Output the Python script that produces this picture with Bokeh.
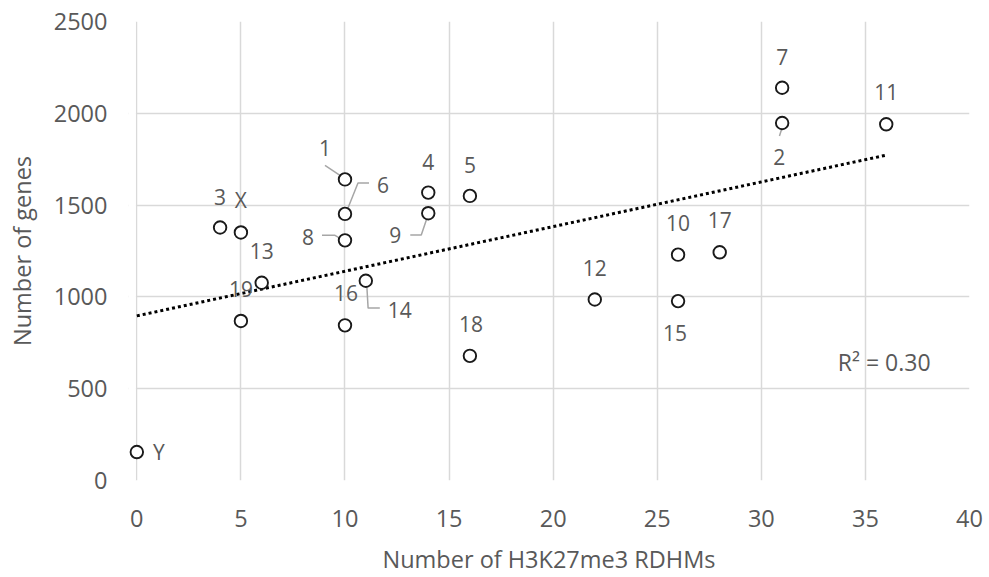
import numpy as np
from bokeh.plotting import figure
from bokeh.models import Range1d, FixedTicker, ColumnDataSource
from bokeh.core.properties import value
from bokeh.embed import file_html
from bokeh.resources import INLINE

# ---- data ----
labels = ["1", "2", "3", "4", "5", "6", "7", "8", "9", "10", "11", "12", "13",
          "14", "15", "16", "17", "18", "19", "X", "Y"]
rdhms = [10, 31, 4, 14, 16, 10, 31, 10, 14, 26, 36, 22, 6, 11, 26, 10, 28, 16, 5, 5, 0]
genes = [1640, 1947, 1378, 1568, 1550, 1452, 2139, 1308, 1456, 1230, 1940, 986, 1077,
         1088, 977, 845, 1243, 679, 869, 1351, 155]
x_ticks = [0, 5, 10, 15, 20, 25, 30, 35, 40]
y_ticks = [0, 500, 1000, 1500, 2000, 2500]
r2_text = "R\u00b2 = 0.30"
x_title = "Number of H3K27me3 RDHMs"
y_title = "Number of genes"

# ---- layout / style ----
FONT = "Open Sans"
W, H = 989, 577
ML, MR, MT, MB = 128, 20, 21, 95
FW, FH = W - ML - MR, H - MT - MB
XMIN, XMAX, YMAX = -0.4, 40, 2500   # small left pad so the x=0 marker is not clipped
sx = (XMAX - XMIN) / FW      # data units per px
sy = YMAX / FH

# label offsets in screen pixels (dx right, dy down) from the point
label_off = {
    "1": (-20, -32), "6": (38, -29), "8": (-37, -3), "4": (0, -31), "5": (0, -31),
    "9": (-33, 22), "16": (1, -32), "14": (34, 29), "18": (1, -32), "3": (0, -31),
    "X": (0, -33), "13": (0, -32), "19": (0, -32), "7": (0, -31), "2": (-3, 34),
    "11": (0, -32), "10": (0, -32), "17": (0, -32), "12": (0, -32), "15": (-3, 32),
    "Y": (22, 0),
}
# leader line paths in screen pixel offsets from the point
leaders = {
    "1": [(-20, -14), (-5, -4)],
    "6": [(24, -31), (13, -31), (3, -6)],
    "8": [(-23, -5), (-10, -5), (-4, -1.5)],
    "9": [(-18, 22), (-7, 22), (-1, 4)],
    "14": [(1, 5), (2.3, 27.5), (14, 27.5)],
    "2": [(0.7, 2.5), (-2.7, 13)],
}

p = figure(width=W, height=H, output_backend="svg", toolbar_location=None,
           x_range=Range1d(XMIN, XMAX), y_range=Range1d(0, YMAX),
           min_border_left=ML, min_border_right=MR, min_border_top=MT,
           min_border_bottom=MB, outline_line_color=None,
           background_fill_color="white", border_fill_color="white")

for ax in (p.xaxis, p.yaxis):
    ax.axis_line_color = None
    ax.major_tick_line_color = None
    ax.minor_tick_line_color = None
    ax.major_tick_out = 0
    ax.major_tick_in = 0
    ax.major_label_text_font = FONT
    ax.major_label_text_font_size = "23.5px"
    ax.major_label_text_color = "#595959"
    ax.axis_label_text_font = FONT
    ax.axis_label_text_font_size = "23.5px"
    ax.axis_label_text_font_style = "normal"
    ax.axis_label_text_color = "#595959"

p.xaxis.ticker = FixedTicker(ticks=x_ticks)
p.yaxis.ticker = FixedTicker(ticks=y_ticks)
p.xaxis.axis_label = x_title
p.yaxis.axis_label = y_title
p.xaxis.major_label_standoff = 29
p.yaxis.major_label_standoff = 21
p.xaxis.axis_label_standoff = 13
p.yaxis.axis_label_standoff = 13

p.xgrid.ticker = FixedTicker(ticks=x_ticks)
p.ygrid.ticker = FixedTicker(ticks=y_ticks)
for g in (p.xgrid, p.ygrid):
    g.grid_line_color = "#d9d9d9"
    g.grid_line_width = 1.5

# white mask over the padding strip left of x=0 (hides grid stubs)
p.quad(left=[XMIN], right=[-0.045], bottom=[0], top=[YMAX],
       fill_color="white", line_color=None)

# trendline (least squares fit of the data)
xa = np.array(rdhms, dtype=float)
ya = np.array(genes, dtype=float)
slope, intercept = np.polyfit(xa, ya, 1)
tx = [0, max(rdhms)]
ty = [intercept + slope * t for t in tx]
p.line(tx, ty, line_color="black", line_width=3, line_dash="3 3")

# leader lines
lx, ly = [], []
for lab, path in leaders.items():
    i = labels.index(lab)
    lx.append([rdhms[i] + dx * sx for dx, dy in path])
    ly.append([genes[i] - dy * sy for dx, dy in path])
p.multi_line(lx, ly, line_color="#a6a6a6", line_width=1.5)

# points
p.scatter(rdhms, genes, marker="circle", size=12.5, fill_color="white",
          line_color="#1a1a1a", line_width=1.9)

# point labels
tx_l = [rdhms[i] + label_off[l][0] * sx for i, l in enumerate(labels)]
ty_l = [genes[i] - label_off[l][1] * sy for i, l in enumerate(labels)]
src = ColumnDataSource(dict(x=tx_l, y=ty_l, t=labels))
p.text(x="x", y="y", text="t", source=src, text_font=value(FONT),
       text_font_size="21px", text_color="#595959", text_align="center",
       text_baseline="middle")

# R^2 annotation
p.text(x=[35.9], y=[645], text=[r2_text], text_font=value(FONT),
       text_font_size="23px", text_color="#595959", text_align="center",
       text_baseline="middle")

open("out.html", "w").write(file_html(p, INLINE))
